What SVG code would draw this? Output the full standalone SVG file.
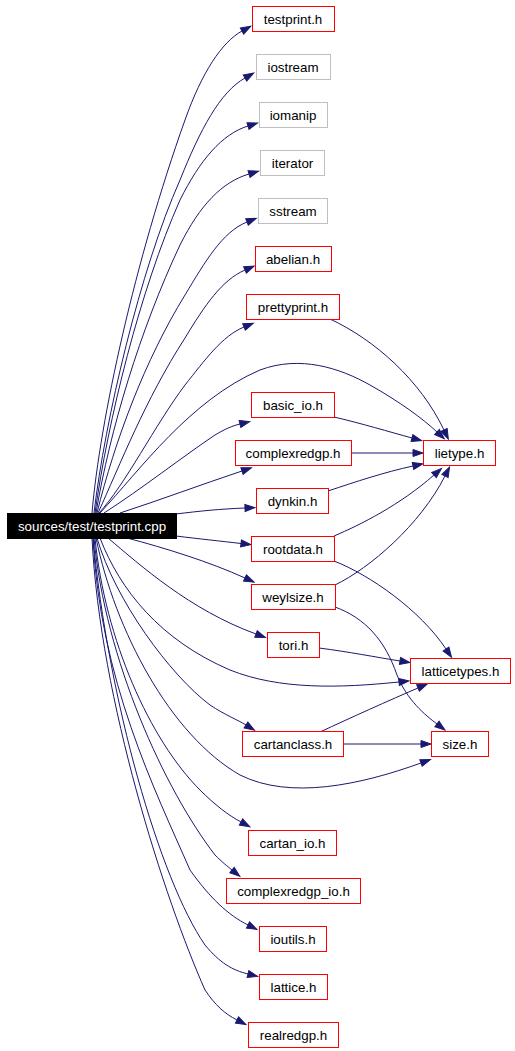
<svg xmlns="http://www.w3.org/2000/svg" width="515" height="1051" viewBox="0 0 515 1051">
<style>
.n rect{fill:#ffffff;stroke:#ff0000;stroke-width:1}
.n.g rect{stroke:#bfbfbf}
.n.s rect{fill:#000000;stroke:#000000}
text{font-family:"Liberation Sans",Arial,sans-serif;font-size:13.33px;text-anchor:middle;fill:#000000}
.n.s text{fill:#ffffff}
#edges path{fill:none;stroke:#191970;stroke-width:1;marker-end:url(#a)}
</style>
<defs>
<marker id="a" viewBox="0 0 10 7" refX="0" refY="3.5" markerWidth="10" markerHeight="7" markerUnits="userSpaceOnUse" orient="auto" overflow="visible">
<path d="M0,0L10,3.5L0,7z" fill="#191970" stroke="#191970" stroke-width="1"/>
</marker>
</defs>
<rect width="515" height="1051" fill="#ffffff"/>
<g id="edges">
<path d="M92,513 C100,420 135,260 185,120 C202,72 222,42 242,31"/>
<path d="M94,513 C105,420 140,270 180,180 C200,130 220,92 245,78"/>
<path d="M95,513 C108,420 140,290 180,200 C200,160 222,134 248,126"/>
<path d="M96,513 C110,430 140,330 180,245 C200,205 222,182 249,174"/>
<path d="M97,513 C115,440 145,360 185,295 C205,262 222,232 247,222"/>
<path d="M98,513 C120,465 145,400 185,338 C205,305 222,280 245,270"/>
<path d="M99,513 C125,485 155,425 185,385 C205,360 222,336 244,327"/>
<path d="M100,513 C140,470 190,400 260,370 C300,355 340,368 370,385 C400,402 422,418 437,432"/>
<path d="M104,513 C140,490 185,455 215,435 C225,429 232,426 240,424"/>
<path d="M120,513 C160,500 200,485 242,471"/>
<path d="M176,514 C200,511 220,509 245,508"/>
<path d="M176,536 C200,539 220,541 241,543.5"/>
<path d="M127,538 C165,548 210,562 245,578"/>
<path d="M108,538 C140,565 190,610 256,634"/>
<path d="M100,538 C120,590 160,640 230,670 C280,690 340,688 399,682"/>
<path d="M97,538 C115,600 170,675 210,705 C225,715 238,720 246,725"/>
<path d="M96,538 C115,630 170,735 240,775 C290,800 360,785 421,763"/>
<path d="M95,538 C105,640 150,740 200,790 C215,805 228,815 241,822"/>
<path d="M94,538 C105,660 165,790 215,855 C222,862 227,866 232,870"/>
<path d="M93,538 C100,680 155,790 190,870 C210,898 228,915 248,925"/>
<path d="M93,538 C108,700 160,880 205,945 C220,963 232,970 248,974"/>
<path d="M92,538 C100,700 165,900 205,990 C215,1005 225,1014 237,1020"/>
<path d="M330,319 C375,340 420,380 444,430"/>
<path d="M334,417 C360,423 390,432 412,438"/>
<path d="M351,453 L413,453"/>
<path d="M328,491 C355,482 385,472 413,466"/>
<path d="M334,536 C360,525 400,505 434,475"/>
<path d="M335,585 C370,568 420,525 445,476"/>
<path d="M334,561 C370,575 420,610 446,649"/>
<path d="M335,607 C365,618 385,640 397,675 C407,700 425,715 437,724"/>
<path d="M319,648 C350,652 375,657 400,661"/>
<path d="M320,732 C350,718 390,700 418,688"/>
<path d="M343,744 L421,744"/>
</g>
<g id="n_testprint_h" class="n"><rect x="252.5" y="6.5" width="82" height="25"/><text x="293" y="24">testprint.h</text></g>
<g id="n_iostream" class="n g"><rect x="256.5" y="54.5" width="74" height="25"/><text x="293" y="72">iostream</text></g>
<g id="n_iomanip" class="n g"><rect x="259.5" y="102.5" width="68" height="25"/><text x="293" y="120">iomanip</text></g>
<g id="n_iterator" class="n g"><rect x="260.5" y="150.5" width="64" height="25"/><text x="292.5" y="168">iterator</text></g>
<g id="n_sstream" class="n g"><rect x="258.5" y="198.5" width="69" height="25"/><text x="293" y="216">sstream</text></g>
<g id="n_abelian_h" class="n"><rect x="255.5" y="246.5" width="76" height="25"/><text x="293" y="264">abelian.h</text></g>
<g id="n_prettyprint_h" class="n"><rect x="246.5" y="294.5" width="93" height="25"/><text x="293" y="312">prettyprint.h</text></g>
<g id="n_basic_io_h" class="n"><rect x="251.5" y="392.5" width="83" height="25"/><text x="293" y="410">basic_io.h</text></g>
<g id="n_complexredgp_h" class="n"><rect x="235.5" y="440.5" width="116" height="25"/><text x="293" y="458">complexredgp.h</text></g>
<g id="n_lietype_h" class="n"><rect x="423.5" y="440.5" width="72" height="25"/><text x="459.5" y="458">lietype.h</text></g>
<g id="n_dynkin_h" class="n"><rect x="256.5" y="488.5" width="72" height="25"/><text x="292.5" y="506">dynkin.h</text></g>
<g id="n_source" class="n s"><rect x="7.5" y="513.5" width="169" height="25"/><text x="92" y="531">sources/test/testprint.cpp</text></g>
<g id="n_rootdata_h" class="n"><rect x="251.5" y="536.5" width="83" height="25"/><text x="293" y="554">rootdata.h</text></g>
<g id="n_weylsize_h" class="n"><rect x="251.5" y="584.5" width="84" height="25"/><text x="293" y="602">weylsize.h</text></g>
<g id="n_tori_h" class="n"><rect x="267.5" y="632.5" width="52" height="25"/><text x="293.5" y="650">tori.h</text></g>
<g id="n_latticetypes_h" class="n"><rect x="410.5" y="658.5" width="100" height="25"/><text x="460.5" y="676">latticetypes.h</text></g>
<g id="n_cartanclass_h" class="n"><rect x="242.5" y="731.5" width="101" height="25"/><text x="293" y="749">cartanclass.h</text></g>
<g id="n_size_h" class="n"><rect x="431.5" y="731.5" width="57" height="25"/><text x="460" y="749">size.h</text></g>
<g id="n_cartan_io_h" class="n"><rect x="248.5" y="830.5" width="88" height="25"/><text x="292.5" y="848">cartan_io.h</text></g>
<g id="n_complexredgp_io_h" class="n"><rect x="226.5" y="878.5" width="134" height="25"/><text x="293.5" y="896">complexredgp_io.h</text></g>
<g id="n_ioutils_h" class="n"><rect x="259.5" y="926.5" width="67" height="25"/><text x="293" y="944">ioutils.h</text></g>
<g id="n_lattice_h" class="n"><rect x="259.5" y="974.5" width="68" height="25"/><text x="293.5" y="992">lattice.h</text></g>
<g id="n_realredgp_h" class="n"><rect x="248.5" y="1022.5" width="90" height="25"/><text x="293.5" y="1040">realredgp.h</text></g>
</svg>
